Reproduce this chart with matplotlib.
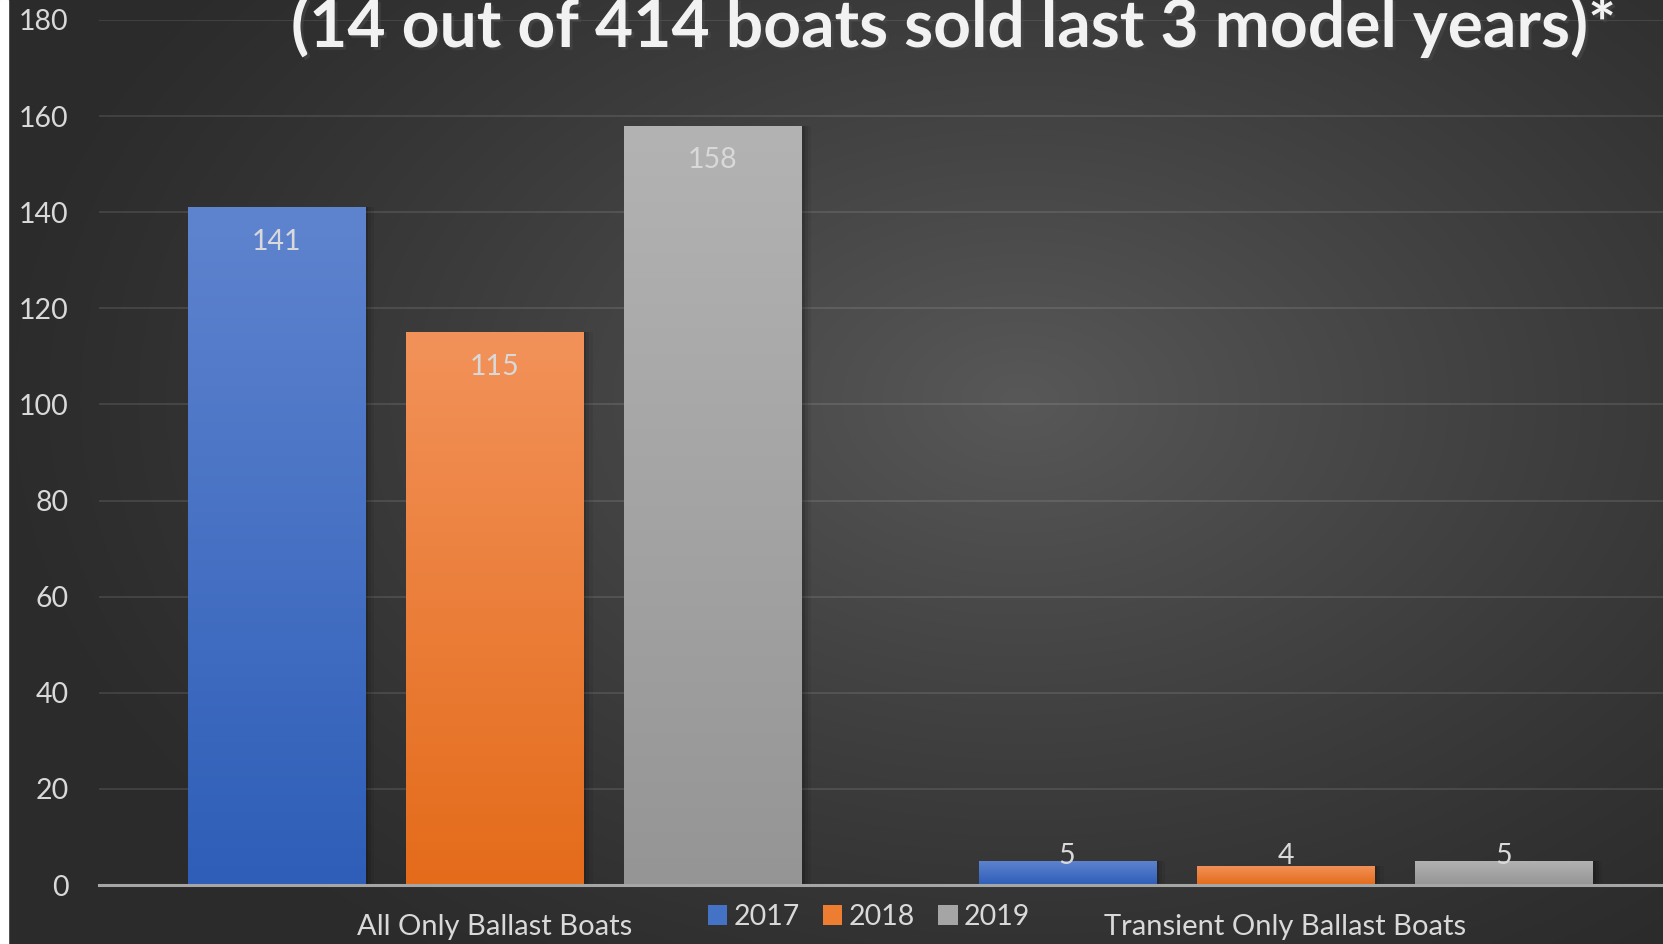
import numpy as np
import matplotlib
matplotlib.use("Agg")
import matplotlib.pyplot as plt
from matplotlib.patches import Rectangle, Patch
import matplotlib.patheffects as pe

# ---------------- data ----------------
categories = ["All Only Ballast Boats", "Transient Only Ballast Boats"]
series_names = ["2017", "2018", "2019"]
values_2017 = [141, 5]
values_2018 = [115, 4]
values_2019 = [158, 5]
yticks = [0, 20, 40, 60, 80, 100, 120, 140, 160, 180]
title_text = "(14 out of 414 boats sold last 3 model years)*"

# ---------------- style ----------------
W, H = 1663, 944
DPI = 100
FONT = "Lato"
TXT = "#d9d9d9"
grad_top = ["#5f84cf", "#f2925a", "#b3b3b3"]
grad_bot = ["#2e5eb8", "#e46b1a", "#959595"]
mid_cols = ["#4472c4", "#ed7d31", "#a5a5a5"]

fig = plt.figure(figsize=(W / DPI, H / DPI), dpi=DPI)

# background gradient
bg = fig.add_axes([0, 0, 1, 1], zorder=-10)
yy, xx = np.mgrid[0:H, 0:W]
d = np.sqrt(((xx - 1020) / 1050.0) ** 2 + ((yy - 400) / 700.0) ** 2)
g = 0x2b + (0x58 - 0x2b) * np.clip(1 - d, 0, 1) ** 1.2
img = np.dstack([g, g, g]) / 255.0
bg.imshow(img, aspect="auto", extent=[0, W, H, 0], interpolation="bilinear")
bg.add_patch(Rectangle((0, 0), 8, H, color="white", zorder=5))
bg.set_xlim(0, W)
bg.set_ylim(H, 0)
bg.axis("off")

# main axes (plot area extends slightly past the right edge of the image)
left_px, right_px, top_px, bot_px = 99, 1681, 20, 885
ax = fig.add_axes([left_px / W, (H - bot_px) / H, (right_px - left_px) / W,
                   (bot_px - top_px) / H])
ax.patch.set_alpha(0)
ax.set_ylim(0, 180)
ax.set_xlim(-0.5, 1.5)

x = np.arange(len(categories))
bw = 0.2238
step = 0.2762
all_vals = [values_2017, values_2018, values_2019]

for i, vals in enumerate(all_vals):
    xs = x + (i - 1) * step
    bars = ax.bar(xs, vals, width=bw, color=mid_cols[i], zorder=3, linewidth=0)
    for b, v in zip(bars, vals):
        x0, y0 = b.get_x(), b.get_y()
        w, h = b.get_width(), b.get_height()
        # soft shadow
        for k, a in enumerate([0.12, 0.09, 0.06]):
            off = 0.004 * (k + 1)
            ax.add_patch(Rectangle((x0 + off, y0), w, h, color="black",
                                   alpha=a, zorder=2, linewidth=0))
        c1 = np.array(matplotlib.colors.to_rgb(grad_top[i]))
        c2 = np.array(matplotlib.colors.to_rgb(grad_bot[i]))
        t = np.linspace(0, 1, 256)[:, None]
        grad = (c1 * (1 - t) + c2 * t)[:, None, :]
        im = ax.imshow(grad, extent=[x0, x0 + w, y0, y0 + h], aspect="auto",
                       zorder=3.5, origin="upper")
        im.set_clip_path(b)
        # data label
        ylab = max(v - 7.2, 6.1)
        ax.text(b.get_x() + w / 2, ylab, f"{v}", ha="center", va="center",
                color=TXT, fontsize=20.5, family=FONT, zorder=6)

ax.set_yticks(yticks)
ax.set_yticklabels([str(t) for t in yticks])
ax.set_xticks(x)
ax.set_xticklabels(categories)
ax.tick_params(axis="y", length=0, pad=22, labelsize=20.5, labelcolor=TXT)
ax.tick_params(axis="x", length=0, pad=21, labelsize=21, labelcolor=TXT)
for lab in ax.get_xticklabels() + ax.get_yticklabels():
    lab.set_family(FONT)
ax.grid(axis="y", color="white", alpha=0.10, linewidth=1.5, zorder=0)
ax.set_axisbelow(True)
for s in ["top", "right", "left"]:
    ax.spines[s].set_visible(False)
ax.spines["bottom"].set_color("#a6a6a6")
ax.spines["bottom"].set_linewidth(2.2)
ax.spines["bottom"].set_zorder(4)

# legend
handles = [Patch(facecolor=c, edgecolor="none") for c in mid_cols]
leg = fig.legend(handles, series_names, loc="center", ncol=3,
                 bbox_to_anchor=(869 / W, 1 - 917 / H), frameon=False,
                 prop={"family": FONT, "size": 20.5}, handlelength=0.68,
                 handleheight=0.68, handletextpad=0.22, columnspacing=0.82)
for t in leg.get_texts():
    t.set_color(TXT)

# title (partially cut off at the top, as in the reference)
fig.text(291 / W, 1 - 47 / H, title_text, ha="left", va="baseline",
         color="#f2f2f2", fontsize=47.5, fontweight="bold", family=FONT,
         path_effects=[pe.withSimplePatchShadow(offset=(2, -2), alpha=0.6)])

fig.savefig("out.png", dpi=DPI)
